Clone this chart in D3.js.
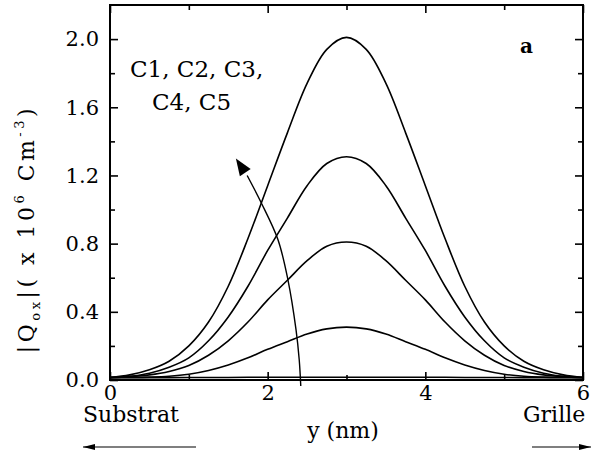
<!DOCTYPE html>
<html>
<head>
<meta charset="utf-8">
<script src="https://cdn.jsdelivr.net/npm/d3@7"></script>
<style>
  html, body { margin: 0; padding: 0; background: #fff; }
  svg { display: block; }
  text { font-family: "DejaVu Serif", serif; fill: #000; }
</style>
</head>
<body>
<svg id="chart" width="592" height="454"></svg>
<script>
// ---- data ----
const yPos = [0,0.25,0.5,0.75,1,1.25,1.5,1.75,2,2.25,2.5,2.75,3,3.25,3.5,3.75,4,4.25,4.5,4.75,5,5.25,5.5,5.75,6];
const C1 = [0.014,0.014,0.014,0.014,0.015,0.015,0.015,0.016,0.016,0.016,0.016,0.016,0.016,0.016,0.016,0.016,0.016,0.016,0.015,0.015,0.015,0.014,0.014,0.014,0.014];
const C2 = [0.014,0.015,0.017,0.022,0.034,0.056,0.088,0.13,0.18,0.225,0.27,0.30,0.31,0.30,0.27,0.225,0.18,0.13,0.088,0.056,0.034,0.022,0.017,0.015,0.014];
const C3 = [0.015,0.02,0.03,0.05,0.085,0.145,0.23,0.34,0.47,0.585,0.70,0.785,0.81,0.785,0.70,0.585,0.47,0.34,0.23,0.145,0.085,0.05,0.03,0.02,0.015];
const C4 = [0.015,0.022,0.04,0.075,0.13,0.23,0.37,0.55,0.76,0.95,1.14,1.27,1.31,1.27,1.14,0.95,0.76,0.55,0.37,0.23,0.13,0.075,0.04,0.022,0.015];
const C5 = [0.015,0.03,0.06,0.11,0.20,0.34,0.55,0.83,1.14,1.45,1.74,1.94,2.01,1.94,1.74,1.45,1.14,0.83,0.55,0.34,0.20,0.11,0.06,0.03,0.015];
const seriesList = [C1, C2, C3, C4, C5];
const xMajorTicks = [0, 2, 4, 6];
const xMinorTicks = [1, 3, 5];
const yMajorTicks = [0.0, 0.4, 0.8, 1.2, 1.6, 2.0];
const yMinorTicks = [0.2, 0.6, 1.0, 1.4, 1.8];
// curved annotation arrow, in data units (y nm, Q)
const arrowPts = [[2.42,-0.035],[2.40,0.12],[2.36,0.294],[2.257,0.588],[2.13,0.824],[1.918,1.04],[1.74,1.20]];
const arrowTip = [1.597, 1.30];

// ---- layout ----
const svg = d3.select("#chart");
const L = 110, R = 583, T = 5, B = 380;
const x = d3.scaleLinear().domain([0, 6]).range([L, R]);
const y = d3.scaleLinear().domain([0, 2.2]).range([B, T]);

// curves
const line = d3.line().x((d, i) => x(yPos[i])).y(d => y(d)).curve(d3.curveCatmullRom);
svg.append("g").selectAll("path").data(seriesList).join("path")
  .attr("d", d => line(d))
  .attr("fill", "none").attr("stroke", "#000").attr("stroke-width", 1.6);

// axes
function styleAxis(g, labels) {
  g.select(".domain").remove();
  g.selectAll(".tick line").attr("stroke", "#000").attr("stroke-width", 1.6);
  g.selectAll(".tick text").style("font-size", "21px").style("font-family", "DejaVu Serif");
  if (!labels) g.selectAll(".tick text").remove();
}
svg.append("g").attr("transform", `translate(0,${B})`)
  .call(d3.axisBottom(x).tickValues(xMajorTicks).tickFormat(d3.format("d")).tickSize(-8).tickPadding(5))
  .call(g => styleAxis(g, true));
svg.append("g").attr("transform", `translate(0,${B})`)
  .call(d3.axisBottom(x).tickValues(xMinorTicks).tickSize(-5))
  .call(g => styleAxis(g, false));
svg.append("g").attr("transform", `translate(0,${T})`)
  .call(d3.axisTop(x).tickValues(xMajorTicks).tickSize(-8))
  .call(g => styleAxis(g, false));
svg.append("g").attr("transform", `translate(0,${T})`)
  .call(d3.axisTop(x).tickValues(xMinorTicks).tickSize(-5))
  .call(g => styleAxis(g, false));
svg.append("g").attr("transform", `translate(${L},0)`)
  .call(d3.axisLeft(y).tickValues(yMajorTicks).tickFormat(d3.format(".1f")).tickSize(-8).tickPadding(11))
  .call(g => styleAxis(g, true));
svg.append("g").attr("transform", `translate(${L},0)`)
  .call(d3.axisLeft(y).tickValues(yMinorTicks).tickSize(-5))
  .call(g => styleAxis(g, false));
svg.append("g").attr("transform", `translate(${R},0)`)
  .call(d3.axisRight(y).tickValues(yMajorTicks).tickSize(-8))
  .call(g => styleAxis(g, false));
svg.append("g").attr("transform", `translate(${R},0)`)
  .call(d3.axisRight(y).tickValues(yMinorTicks).tickSize(-5))
  .call(g => styleAxis(g, false));

// frame
svg.append("rect").attr("x", L).attr("y", T).attr("width", R - L).attr("height", B - T)
  .attr("fill", "none").attr("stroke", "#000").attr("stroke-width", 2);

// curved arrow
const aLine = d3.line().x(d => x(d[0])).y(d => y(d[1])).curve(d3.curveCatmullRom);
svg.append("path").attr("d", aLine(arrowPts)).attr("fill", "none").attr("stroke", "#000").attr("stroke-width", 1.4);
{
  const p = arrowPts[arrowPts.length - 1];
  const tx = x(arrowTip[0]), ty = y(arrowTip[1]);
  const bx = x(p[0]), by = y(p[1]);
  const ang = Math.atan2(ty - by, tx - bx);
  const len = 17, hw = 6.5;
  const baseX = tx - len * Math.cos(ang), baseY = ty - len * Math.sin(ang);
  const pts = [[tx, ty],
    [baseX + hw * Math.sin(ang), baseY - hw * Math.cos(ang)],
    [baseX - hw * Math.sin(ang), baseY + hw * Math.cos(ang)]];
  svg.append("polygon").attr("points", pts.map(q => q.join(",")).join(" ")).attr("fill", "#000");
}

// annotations
svg.append("text").attr("x", 130).attr("y", 77).style("font-size", "23px").text("C1, C2, C3,");
svg.append("text").attr("x", 152).attr("y", 110).style("font-size", "23px").text("C4, C5");
svg.append("text").attr("x", 520).attr("y", 53).style("font-size", "20px").style("font-weight", "bold").text("a");

// x labels
svg.append("text").attr("x", 343).attr("y", 438).attr("text-anchor", "middle").style("font-size", "22px").text("y (nm)");
svg.append("text").attr("x", 83).attr("y", 422).style("font-size", "22px").text("Substrat");
svg.append("text").attr("x", 523).attr("y", 422).style("font-size", "22px").text("Grille");
function hArrow(x1, x2, yy, dir) {
  svg.append("line").attr("x1", x1).attr("x2", x2).attr("y1", yy).attr("y2", yy).attr("stroke", "#000").attr("stroke-width", 1.2);
  const tip = dir < 0 ? x1 : x2;
  const back = tip - dir * 12;
  svg.append("polygon").attr("points", `${tip},${yy} ${back},${yy - 3} ${back},${yy + 3}`).attr("fill", "#000");
}
hArrow(83, 196, 447, -1);
hArrow(532, 591, 447, 1);

// y label
const yl = svg.append("text").attr("transform", "translate(34,229) rotate(-90)")
  .attr("text-anchor", "middle").style("font-size", "22px").style("letter-spacing", "3.5px");
yl.append("tspan").text("|Q");
yl.append("tspan").attr("dy", 6).style("font-size", "13px").text("ox");
yl.append("tspan").attr("dy", -6).text("|( x 10");
yl.append("tspan").attr("dy", -10).style("font-size", "13px").text("6");
yl.append("tspan").attr("dy", 10).text(" Cm");
yl.append("tspan").attr("dy", -10).style("font-size", "13px").text("-3");
yl.append("tspan").attr("dy", 10).text(")");
</script>
</body>
</html>
